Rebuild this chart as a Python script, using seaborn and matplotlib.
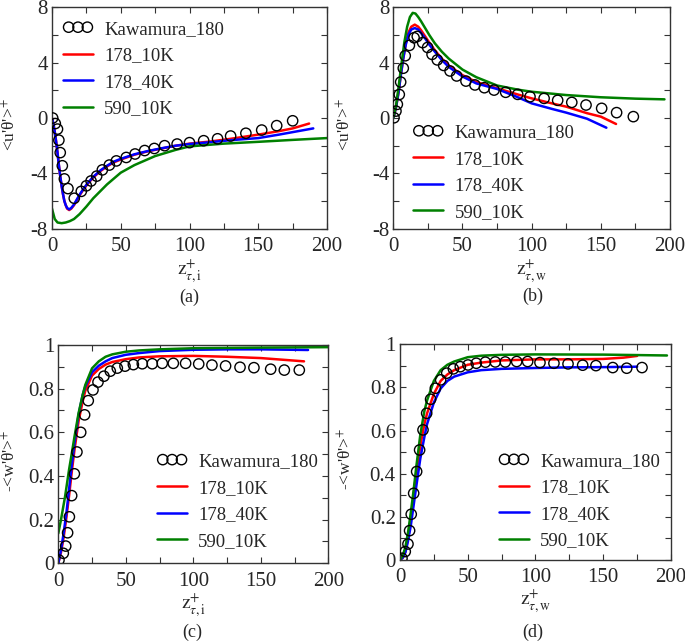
import matplotlib
matplotlib.use("Agg")
import matplotlib.pyplot as plt
import seaborn as sns
from matplotlib.ticker import MultipleLocator, FormatStrFormatter

# ---- data ----
labels = ["Kawamura_180", "178_10K", "178_40K", "590_10K"]
colors = ["red", "blue", "green"]

# (a) <u'theta'>+ vs z+_{tau,i}
kaw_a_x = [0.5, 2.4, 4, 5, 6, 7.5, 9, 11.6, 16.2, 21.3, 25, 28.4, 32.5, 36.6, 41.7, 46.8, 54, 60.4, 67.4,
           74.4, 81.9, 91, 100, 110.3, 120.4, 129.9, 141, 152.5, 163.4, 175]
kaw_a_y = [0, -0.4, -0.8, -1.6, -2.5, -3.45, -4.4, -5.1, -5.8, -5.3, -4.9, -4.55, -4.2, -3.75, -3.4, -3.1,
           -2.85, -2.6, -2.35, -2.2, -2.0, -1.88, -1.78, -1.64, -1.5, -1.3, -1.1, -0.87, -0.55, -0.2]
red_a_x = [0, 1, 2, 3, 4, 5, 6, 7, 8, 9, 10, 11, 12.5, 14, 16, 18, 20, 23, 26, 30, 35, 40, 45, 50, 60, 70,
           80, 90, 100, 115, 130, 150, 165, 175, 187]
red_a_y = [0, -0.4, -1.0, -1.7, -2.5, -3.4, -4.2, -4.9, -5.5, -6.0, -6.3, -6.55, -6.65, -6.55, -6.3, -5.95,
           -5.6, -5.15, -4.75, -4.3, -3.85, -3.5, -3.2, -3.0, -2.65, -2.4, -2.2, -2.0, -1.85, -1.7, -1.5,
           -1.2, -0.95, -0.75, -0.4]
blue_a_x = [0, 1, 2, 3, 4, 5, 6, 7, 8, 9, 10, 11, 12.5, 14, 16, 18, 20, 23, 26, 30, 35, 40, 45, 50, 60, 70,
            80, 90, 100, 115, 130, 150, 165, 175, 190]
blue_a_y = [0, -0.4, -1.0, -1.7, -2.5, -3.4, -4.2, -4.9, -5.5, -6.0, -6.3, -6.5, -6.6, -6.5, -6.25, -5.9,
            -5.55, -5.1, -4.7, -4.25, -3.8, -3.45, -3.15, -2.95, -2.62, -2.38, -2.18, -2.0, -1.88, -1.75,
            -1.6, -1.45, -1.2, -1.02, -0.75]
green_a_x = [0, 2, 4, 7, 10, 13, 16, 20, 25, 30, 35, 40, 50, 60, 75, 90, 100, 125, 150, 175, 200]
green_a_y = [-6.55, -7.3, -7.55, -7.6, -7.55, -7.45, -7.3, -6.95, -6.4, -5.8, -5.3, -4.8, -3.95, -3.4,
             -2.75, -2.3, -2.05, -1.85, -1.72, -1.58, -1.45]

# (b) <u'theta'>+ vs z+_{tau,w}
kaw_b_x = [0.5, 1.9, 2.9, 4.3, 5.3, 7.2, 8.6, 11.6, 15, 17.3, 21.2, 24.8, 28, 31.8, 36.4, 41, 45.8, 52.5,
           59, 65.8, 72.8, 81.2, 89.9, 98.8, 109, 118.8, 129, 139.3, 150.6, 161.4, 173.5]
kaw_b_y = [0.02, 0.5, 0.99, 1.7, 2.6, 3.6, 4.5, 5.25, 5.8, 5.9, 5.45, 5.1, 4.6, 4.2, 3.8, 3.4, 3.04, 2.67,
           2.39, 2.19, 2.02, 1.86, 1.71, 1.54, 1.42, 1.28, 1.13, 0.94, 0.70, 0.39, 0.1]
red_b_x = [0, 2, 4, 5, 7, 9, 11, 13, 15.5, 18, 20, 23, 26, 30, 35, 40, 50, 60, 75, 90, 100, 115, 125, 140,
           150, 161]
red_b_y = [0, 0.8, 2.0, 2.8, 4.2, 5.4, 6.2, 6.6, 6.75, 6.6, 6.35, 5.9, 5.45, 4.9, 4.3, 3.8, 3.1, 2.6, 2.15,
           1.7, 1.42, 1.05, 0.82, 0.35, 0.1, -0.43]
blue_b_x = [0, 2, 4, 5, 7, 9, 11, 13, 15.5, 18, 20, 23, 26, 30, 35, 40, 50, 60, 75, 90, 100, 115, 125, 140,
            154]
blue_b_y = [0, 0.8, 2.0, 2.8, 4.2, 5.3, 6.05, 6.4, 6.5, 6.4, 6.15, 5.75, 5.3, 4.8, 4.2, 3.7, 3.0, 2.5, 2.1,
            1.5, 1.06, 0.65, 0.39, -0.05, -0.7]
green_b_x = [0, 2, 4, 6, 8, 10, 12, 14, 16, 18, 20, 23, 26, 30, 35, 40, 50, 60, 75, 90, 100, 125, 150, 175,
             196]
green_b_y = [0, 0.9, 2.4, 4.0, 5.5, 6.6, 7.3, 7.6, 7.55, 7.3, 7.0, 6.5, 6.0, 5.4, 4.8, 4.3, 3.5, 2.95, 2.35,
             2.05, 1.9, 1.66, 1.5, 1.4, 1.35]

# (c) -<w'theta'>+ vs z+_{tau,i}
kaw_c_x = [0.5, 3.7, 5.5, 6.9, 8.2, 9.9, 11.9, 13.8, 16.6, 19.5, 22.2, 25.7, 29.4, 33.8, 38.5, 43.7, 49.4,
           55.6, 62.2, 69.6, 77, 85.2, 94.3, 104, 113.8, 123.9, 134.6, 144.9, 157.3, 167.4, 178.5]
kaw_c_y = [0.015, 0.046, 0.079, 0.14, 0.213, 0.31, 0.41, 0.51, 0.60, 0.68, 0.745, 0.794, 0.83, 0.857, 0.88,
           0.894, 0.903, 0.91, 0.914, 0.914, 0.916, 0.916, 0.916, 0.913, 0.908, 0.904, 0.898, 0.896, 0.889,
           0.885, 0.885]
red_c_x = [0, 2, 4, 6, 8, 10, 12, 15, 18, 20, 25, 30, 35, 40, 50, 60, 75, 100, 125, 150, 182]
red_c_y = [0, 0.05, 0.12, 0.21, 0.31, 0.42, 0.52, 0.65, 0.74, 0.79, 0.86, 0.89, 0.91, 0.922, 0.935, 0.943,
           0.948, 0.95, 0.946, 0.94, 0.925]
blue_c_x = [0, 2, 4, 6, 8, 10, 12, 15, 18, 20, 25, 30, 35, 40, 50, 60, 75, 100, 125, 150, 185]
blue_c_y = [0, 0.06, 0.14, 0.23, 0.34, 0.45, 0.55, 0.68, 0.77, 0.81, 0.875, 0.905, 0.925, 0.94, 0.955,
            0.963, 0.972, 0.978, 0.98, 0.98, 0.977]
green_c_x = [0, 2, 5, 8, 10, 12, 15, 18, 20, 25, 30, 35, 40, 50, 60, 75, 100, 150, 200]
green_c_y = [0.137, 0.2, 0.305, 0.43, 0.504, 0.58, 0.687, 0.77, 0.817, 0.893, 0.925, 0.946, 0.957, 0.969,
             0.975, 0.98, 0.985, 0.988, 0.99]

# (d) -<w'theta'>+ vs z+_{tau,w}
kaw_d_x = [1.5, 3.9, 5.9, 7.1, 8.3, 10.1, 12.3, 14.5, 17, 19.7, 22.6, 26.1, 30, 34.5, 39.4, 44.5, 50.2,
           56.3, 63, 70.3, 77.7, 86.1, 94.2, 103.3, 113.6, 124, 134.8, 144.6, 157, 167.3, 178.6]
kaw_d_y = [0.008, 0.039, 0.074, 0.136, 0.212, 0.309, 0.41, 0.51, 0.603, 0.68, 0.745, 0.796, 0.835, 0.866,
           0.886, 0.896, 0.904, 0.912, 0.917, 0.918, 0.918, 0.92, 0.92, 0.915, 0.912, 0.909, 0.903, 0.901,
           0.892, 0.889, 0.892]
red_d_x = [0, 2, 4, 6, 8, 10, 12, 15, 18, 20, 25, 30, 35, 40, 50, 60, 75, 100, 125, 150, 165, 175]
red_d_y = [0, 0.01, 0.04, 0.1, 0.19, 0.3, 0.4, 0.53, 0.63, 0.68, 0.77, 0.83, 0.86, 0.88, 0.905, 0.915,
           0.925, 0.93, 0.93, 0.932, 0.938, 0.946]
blue_d_x = [0, 2, 4, 6, 8, 10, 12, 15, 18, 20, 25, 30, 35, 40, 50, 60, 75, 100, 125, 150, 175]
blue_d_y = [0, 0.01, 0.035, 0.09, 0.16, 0.25, 0.34, 0.47, 0.57, 0.63, 0.73, 0.795, 0.83, 0.85, 0.87,
            0.88, 0.886, 0.89, 0.893, 0.894, 0.896]
green_d_x = [0, 2, 4, 6, 8, 10, 12, 15, 18, 20, 25, 30, 35, 40, 50, 60, 75, 100, 150, 197]
green_d_y = [0, 0.02, 0.06, 0.13, 0.22, 0.32, 0.43, 0.58, 0.69, 0.74, 0.83, 0.88, 0.905, 0.92, 0.94, 0.947,
             0.951, 0.953, 0.952, 0.948]

sns.set_style("ticks")
plt.rcParams["font.family"] = ["Liberation Serif", "DejaVu Serif"]
plt.rcParams["mathtext.fontset"] = "stix"
plt.rcParams["axes.unicode_minus"] = False

fig = plt.figure(figsize=(6.85, 6.43), dpi=100)


def panel(rect, kx, ky, lines, ylim, ymaj, ymin, xlabel, ylabel, leg_anchor, ylab_x):
    ax = fig.add_axes(rect)
    sns.scatterplot(x=kx, y=ky, ax=ax, marker="o", s=55, facecolor="none", edgecolor="black",
                    linewidth=1.0, label=labels[0], zorder=3)
    for (lx, ly), c, lab in zip(lines, colors, labels[1:]):
        sns.lineplot(x=lx, y=ly, ax=ax, color=c, linewidth=1.8, label=lab, sort=False, estimator=None)
    ax.set_xlim(0, 200)
    ax.set_ylim(*ylim)
    ax.xaxis.set_major_locator(MultipleLocator(50))
    ax.xaxis.set_minor_locator(MultipleLocator(25))
    ax.yaxis.set_major_locator(MultipleLocator(ymaj))
    ax.yaxis.set_minor_locator(MultipleLocator(ymin))
    ax.yaxis.set_major_formatter(FormatStrFormatter("%g"))
    ax.tick_params(which="both", direction="in", top=True, right=True, length=4, width=0.8,
                   color="#333333", labelsize=15)
    ax.tick_params(axis="x", pad=6)
    ax.tick_params(axis="y", pad=3)
    for sp in ax.spines.values():
        sp.set_color("#333333")
        sp.set_linewidth(1.0)
    ax.set_xlabel(xlabel, fontsize=14)
    ax.set_ylabel(ylabel, fontsize=12.5)
    ax.xaxis.set_label_coords(0.5, -0.13)
    ax.yaxis.set_label_coords(ylab_x, 0.47)
    ax.legend(loc="upper left", bbox_to_anchor=leg_anchor, frameon=False, fontsize=13.5,
              scatterpoints=3, scatteryoffsets=[0.5], handlelength=1.6, handletextpad=0.6,
              labelspacing=0.5, borderaxespad=0, borderpad=0)
    return ax


ylab_u = r"<u'θ'>$^{+}$"
ylab_w = r"-<w'θ'>$^{+}$"
xlab_i = r"$\mathrm{z}^{+}_{\tau,\mathrm{i}}$"
xlab_w = r"$\mathrm{z}^{+}_{\tau,\mathrm{w}}$"

panel([0.0759, 0.6443, 0.4015, 0.3443], kaw_a_x, kaw_a_y,
      [(red_a_x, red_a_y), (blue_a_x, blue_a_y), (green_a_x, green_a_y)],
      (-8, 8), 4, 2, xlab_i, ylab_u, (0.04, 0.94), -0.12)
panel([0.5742, 0.6443, 0.4039, 0.3443], kaw_b_x, kaw_b_y,
      [(red_b_x, red_b_y), (blue_b_x, blue_b_y), (green_b_x, green_b_y)],
      (-8, 8), 4, 2, xlab_w, ylab_u, (0.072, 0.472), -0.14)
panel([0.0851, 0.1239, 0.3942, 0.3396], kaw_c_x, kaw_c_y,
      [(red_c_x, red_c_y), (blue_c_x, blue_c_y), (green_c_x, green_c_y)],
      (0, 1), 0.2, 0.1, xlab_i, ylab_w, (0.366, 0.505), -0.145)
panel([0.5839, 0.1291, 0.3957, 0.3355], kaw_d_x, kaw_d_y,
      [(red_d_x, red_d_y), (blue_d_x, blue_d_y), (green_d_x, green_d_y)],
      (0, 1), 0.2, 0.1, xlab_w, ylab_w, (0.365, 0.497), -0.165)

for txt, x, y in [("(a)", 0.276, 0.537), ("(b)", 0.778, 0.539), ("(c)", 0.280, 0.016), ("(d)", 0.778, 0.016)]:
    fig.text(x, y, txt, ha="center", va="center", fontsize=13)

fig.savefig("out.png", dpi=100, facecolor="white")
